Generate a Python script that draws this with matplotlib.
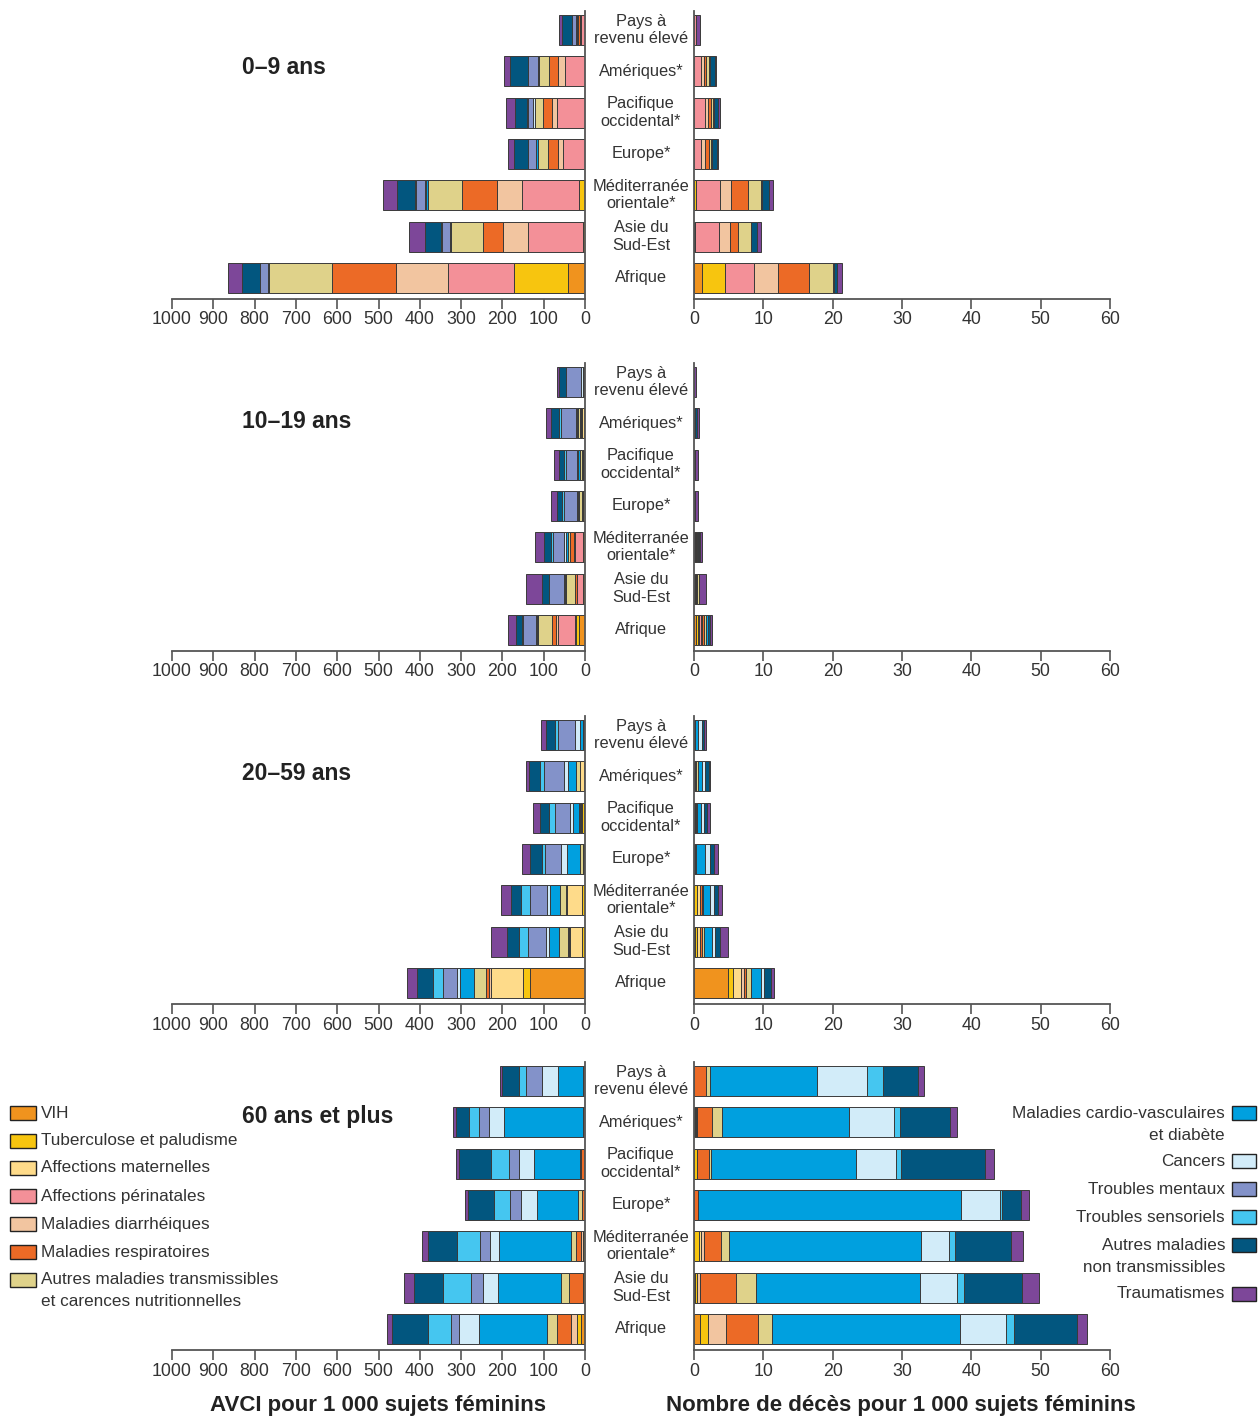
import matplotlib
matplotlib.use("Agg")
import matplotlib.pyplot as plt
from matplotlib.patches import Rectangle
import numpy as np

plt.rcParams['font.family'] = ['Liberation Sans', 'DejaVu Sans']

# --------------------------------------------------------------------------- #
# Data
# --------------------------------------------------------------------------- #
regions = ["Pays à\nrevenu élevé", "Amériques*", "Pacifique\noccidental*", "Europe*",
           "Méditerranée\norientale*", "Asie du\nSud-Est", "Afrique"]

causes = ["VIH", "Tuberculose et paludisme", "Affections maternelles",
          "Affections périnatales", "Maladies diarrhéiques", "Maladies respiratoires",
          "Autres maladies transmissibles\net carences nutritionnelles",
          "Maladies cardio-vasculaires\net diabète", "Cancers", "Troubles mentaux",
          "Troubles sensoriels", "Autres maladies\nnon transmissibles", "Traumatismes"]

colors = ["#F0931E", "#F7C50F", "#FEDB8A", "#F39098", "#F2C5A0", "#EC6A26", "#DFD28A",
          "#00A0DF", "#D2ECF9", "#8392C9", "#45C6F0", "#02567F", "#7D4799"]

age_groups = ["0–9 ans", "10–19 ans", "20–59 ans", "60 ans et plus"]

# AVCI (DALYs) per 1000 females, one row per region, one value per cause
avci_0_9 = [
    [0, 0, 0, 10, 2, 6, 2, 1, 2, 8, 1, 24, 8],
    [0, 0, 0, 48, 18, 20, 25, 2, 2, 22, 1, 43, 16],
    [0, 0, 0, 67, 14, 20, 19, 2, 3, 12, 3, 30, 21],
    [0, 0, 0, 54, 12, 24, 25, 3, 1, 19, 1, 32, 16],
    [1, 13, 0, 138, 62, 85, 80, 6, 3, 20, 3, 45, 34],
    [1, 5, 0, 133, 60, 48, 77, 3, 1, 19, 2, 39, 38],
    [40, 131, 0, 161, 125, 155, 152, 3, 1, 18, 2, 43, 33],
]
avci_10_19 = [
    [0, 0, 1, 0, 0, 1, 2, 2, 3, 36, 1, 16, 5],
    [1, 1, 6, 0, 1, 2, 6, 3, 2, 37, 4, 20, 12],
    [0, 2, 2, 1, 1, 2, 4, 4, 4, 27, 3, 12, 14],
    [0, 1, 3, 1, 1, 2, 6, 3, 3, 32, 4, 11, 15],
    [1, 3, 2, 19, 2, 9, 6, 5, 4, 27, 4, 18, 22],
    [1, 3, 2, 13, 1, 4, 21, 4, 1, 37, 1, 15, 40],
    [14, 9, 1, 41, 6, 8, 35, 3, 2, 30, 3, 15, 20],
]
avci_20_59 = [
    [1, 0, 1, 0, 0, 1, 1, 8, 13, 40, 8, 22, 11],
    [2, 1, 9, 0, 0, 1, 9, 20, 10, 47, 10, 26, 8],
    [2, 5, 2, 0, 1, 2, 3, 14, 8, 35, 14, 24, 16],
    [2, 2, 1, 0, 0, 1, 5, 32, 14, 39, 8, 30, 19],
    [1, 7, 35, 0, 1, 3, 14, 24, 8, 39, 23, 24, 24],
    [1, 7, 28, 0, 2, 4, 20, 24, 8, 43, 24, 28, 39],
    [133, 18, 77, 0, 5, 6, 30, 34, 8, 32, 24, 39, 26],
]
avci_60 = [
    [0, 0, 0, 0, 0, 5, 0, 61, 38, 38, 19, 39, 7],
    [0, 0, 0, 0, 0, 4, 2, 189, 38, 23, 24, 32, 7],
    [0, 2, 0, 0, 0, 7, 4, 111, 36, 24, 43, 77, 8],
    [0, 1, 0, 0, 0, 7, 10, 98, 38, 27, 40, 63, 7],
    [1, 4, 1, 0, 3, 14, 10, 175, 23, 24, 56, 69, 15],
    [1, 3, 0, 0, 0, 34, 19, 153, 38, 29, 66, 71, 24],
    [10, 10, 0, 0, 15, 32, 26, 164, 48, 20, 56, 86, 12],
]

# Deaths per 1000 females
deces_0_9 = [
    [0, 0, 0, 0.25, 0, 0, 0, 0, 0.05, 0, 0, 0.05, 0.45],
    [0, 0, 0, 1.0, 0.4, 0.4, 0.4, 0.05, 0.1, 0, 0, 0.65, 0.15],
    [0, 0, 0, 1.6, 0.35, 0.5, 0.25, 0.05, 0.1, 0, 0, 0.6, 0.3],
    [0, 0, 0, 1.05, 0.55, 0.6, 0.25, 0.1, 0.1, 0, 0, 0.6, 0.2],
    [0.05, 0.3, 0, 3.4, 1.6, 2.5, 1.8, 0.1, 0.1, 0, 0, 0.9, 0.6],
    [0.05, 0.1, 0, 3.5, 1.6, 1.1, 1.8, 0.05, 0.05, 0, 0, 0.8, 0.55],
    [1.1, 3.3, 0, 4.3, 3.4, 4.5, 3.4, 0.1, 0.1, 0, 0, 0.4, 0.8],
]
deces_10_19 = [
    [0, 0, 0, 0, 0, 0, 0, 0, 0.03, 0, 0, 0.04, 0.25],
    [0, 0, 0, 0, 0, 0, 0, 0.1, 0.05, 0, 0, 0.35, 0.15],
    [0, 0, 0, 0, 0, 0, 0.05, 0, 0, 0, 0, 0.1, 0.45],
    [0, 0, 0, 0, 0, 0, 0, 0, 0.05, 0, 0, 0.1, 0.45],
    [0, 0.05, 0.15, 0.1, 0, 0.15, 0.15, 0.1, 0, 0, 0, 0.15, 0.35],
    [0, 0.1, 0.15, 0.1, 0, 0.1, 0.2, 0, 0, 0, 0, 0.1, 1.05],
    [0.3, 0.3, 0.1, 0.3, 0.2, 0.3, 0.3, 0.15, 0.05, 0, 0, 0.3, 0.25],
]
deces_20_59 = [
    [0, 0, 0, 0, 0, 0.05, 0.05, 0.45, 0.55, 0, 0, 0.4, 0.2],
    [0.1, 0.1, 0.05, 0, 0, 0.1, 0.2, 0.6, 0.45, 0, 0, 0.5, 0.2],
    [0.05, 0.15, 0, 0, 0, 0.1, 0.1, 0.6, 0.45, 0, 0, 0.4, 0.45],
    [0.05, 0.05, 0, 0, 0, 0.1, 0.1, 1.25, 0.8, 0, 0, 0.6, 0.55],
    [0.05, 0.35, 0.45, 0, 0, 0.3, 0.1, 1.1, 0.5, 0, 0, 0.55, 0.6],
    [0.1, 0.4, 0.3, 0, 0, 0.3, 0.4, 1.05, 0.5, 0, 0, 0.7, 1.1],
    [4.85, 0.8, 1.2, 0, 0.3, 0.4, 0.6, 1.45, 0.5, 0, 0, 1.0, 0.5],
]
deces_60 = [
    [0, 0, 0, 0, 0, 1.7, 0.6, 15.4, 7.3, 0, 2.3, 5.0, 0.9],
    [0.1, 0.2, 0, 0, 0.1, 2.2, 1.5, 18.2, 6.5, 0.05, 0.8, 7.3, 1.0],
    [0, 0.5, 0, 0, 0, 1.7, 0.3, 20.8, 5.9, 0, 0.7, 12.0, 1.4],
    [0, 0, 0, 0, 0, 0.6, 0, 37.9, 5.6, 0, 0.3, 2.8, 1.1],
    [0, 0.75, 0.3, 0, 0.35, 2.5, 1.1, 27.8, 4.0, 0, 0.8, 8.1, 1.7],
    [0.1, 0.4, 0, 0, 0.3, 5.2, 3.0, 23.6, 5.3, 0, 1.1, 8.3, 2.4],
    [0.86, 1.1, 0, 0, 2.6, 4.7, 2.0, 27.1, 6.65, 0, 1.1, 9.2, 1.35],
]

avci = [avci_0_9, avci_10_19, avci_20_59, avci_60]
deces = [deces_0_9, deces_10_19, deces_20_59, deces_60]

# --------------------------------------------------------------------------- #
# Layout helpers (pixel positions of the 1260x1419 reference)
# --------------------------------------------------------------------------- #
W, H = 1260, 1419
fx = lambda px: px / W
fy = lambda py: 1 - py / H

TXT = "#333333"
EDGE = "#3a3a3a"
SPINE = "#555555"

fig = plt.figure(figsize=(W / 100, H / 100), dpi=100)

panel_bottoms = [299, 651, 1004, 1350]   # y of the x-axis line
panel_height = 288
title_y = [68, 421, 773, 1116]
n = len(regions)
ypos = np.arange(n)[::-1]


def style_axis(ax, side):
    ax.set_ylim(-0.51, 6.46)
    ax.set_yticks([])
    for s in ax.spines.values():
        s.set_color(SPINE)
        s.set_linewidth(1.3)
    ax.spines['top'].set_visible(False)
    if side == "left":
        ax.spines['left'].set_visible(False)
    else:
        ax.spines['right'].set_visible(False)
    ax.tick_params(axis='x', direction='out', length=7, width=1.2, color=SPINE,
                   labelsize=12.8, labelcolor=TXT, pad=2)


def stacked(ax, rows):
    rows = np.array(rows, dtype=float)
    left = np.zeros(n)
    for c in range(rows.shape[1]):
        keep = rows[:, c] > 0          # skip empty segments so they leave no edge line
        ax.barh(ypos[keep], rows[keep, c], left=left[keep], height=0.73, color=colors[c],
                edgecolor=EDGE, linewidth=0.7)
        left += rows[:, c]


for i in range(4):
    bot = panel_bottoms[i]
    axl = fig.add_axes([fx(172), fy(bot), fx(585) - fx(172), panel_height / H])
    axr = fig.add_axes([fx(694), fy(bot), fx(1110) - fx(694), panel_height / H])

    stacked(axl, avci[i])
    axl.set_xlim(1000, 0)
    axl.set_xticks(np.arange(0, 1001, 100))
    style_axis(axl, "left")

    stacked(axr, deces[i])
    axr.set_xlim(0, 60)
    axr.set_xticks(np.arange(0, 61, 10))
    style_axis(axr, "right")

    # region names between the two halves
    for j, name in enumerate(regions):
        axl.text((641 - 172) / (585 - 172), ypos[j], name, transform=axl.get_yaxis_transform(),
                 ha='center', va='center', fontsize=11.8, color=TXT, linespacing=1.2,
                 clip_on=False)

    fig.text(fx(242), fy(title_y[i]), age_groups[i], ha='left', va='center',
             fontsize=16.5, fontweight='bold', color="#222222")

# --------------------------------------------------------------------------- #
# Legends
# --------------------------------------------------------------------------- #
left_y = [1113, 1141, 1168, 1196, 1224, 1252, 1280]
for k, y in enumerate(left_y):
    fig.patches.append(Rectangle((fx(10), fy(y + 7)), fx(26), 14 / H, transform=fig.transFigure,
                                 facecolor=colors[k], edgecolor="#222222", linewidth=1.0))
    for m, line in enumerate(causes[k].split("\n")):
        fig.text(fx(41), fy(y + m * 22), line, ha='left', va='center', fontsize=12.3, color=TXT)

right_y = [1113, 1161, 1189, 1217, 1245, 1294]
for k, y in zip(range(7, 13), right_y):
    fig.patches.append(Rectangle((fx(1232), fy(y + 7)), fx(24), 14 / H, transform=fig.transFigure,
                                 facecolor=colors[k], edgecolor="#222222", linewidth=1.0))
    for m, line in enumerate(causes[k].split("\n")):
        fig.text(fx(1225), fy(y + m * 22), line, ha='right', va='center', fontsize=12.3, color=TXT)

fig.text(fx(378), fy(1405), "AVCI pour 1 000 sujets féminins", ha='center', va='center',
         fontsize=16, fontweight='bold', color="#222222")
fig.text(fx(901), fy(1405), "Nombre de décès pour 1 000 sujets féminins", ha='center',
         va='center', fontsize=16, fontweight='bold', color="#222222")

fig.savefig("out.png", dpi=100)
